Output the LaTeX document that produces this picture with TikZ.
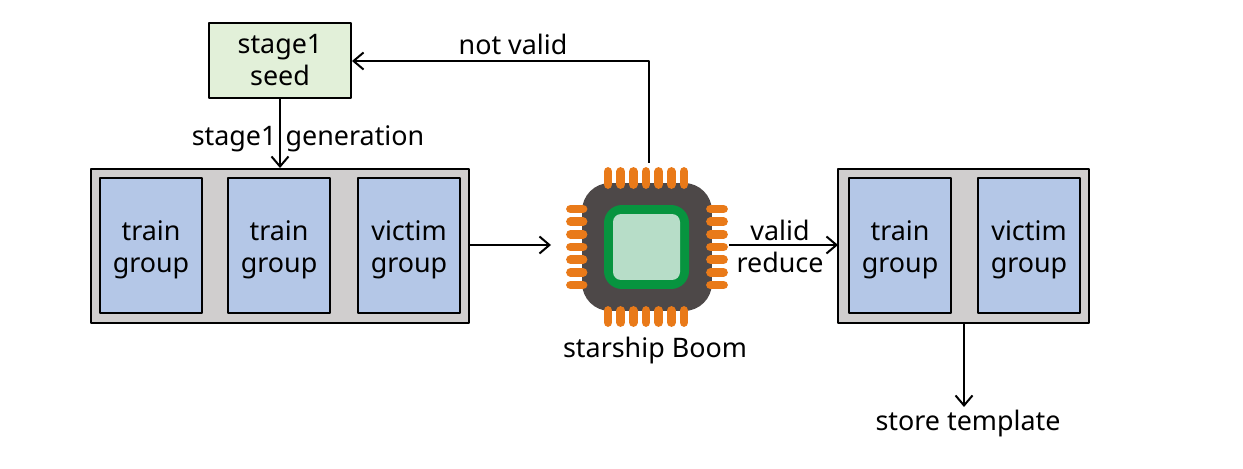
\documentclass[tikz,border=0pt]{standalone}
\usepackage{fontspec}
\setmainfont{Noto Sans}
\usetikzlibrary{arrows.meta}
\definecolor{seedgreen}{HTML}{E2F0D9}
\definecolor{groupblue}{HTML}{B4C7E7}
\definecolor{framegray}{HTML}{D0CECE}
\definecolor{chipdark}{HTML}{4D4848}
\definecolor{chipgreen}{HTML}{07943F}
\definecolor{chiplight}{HTML}{B7DDC8}
\definecolor{pinorange}{HTML}{E97A19}
\tikzset{
	box/.style = {draw, line width = 0.04cm, inner sep = 0pt, align = center, font = \fontsize{15.3pt}{18.2pt}\selectfont},
	frame/.style = {box, fill = framegray, minimum height = 3.08cm},
	group/.style = {box, fill = groupblue, minimum width = 2.04cm, minimum height = 2.7cm, text height = 1.2cm},
	label/.style = {inner sep = 0pt, align = center, font = \fontsize{15.3pt}{18.2pt}\selectfont},
	conn/.style = {draw, line width = 0.04cm, -{Straight Barb[length=0.2cm, width=0.34cm]}},
	pin/.style = {pinorange, line width = 0.175cm, line cap = round},
}
\begin{document}
\begin{tikzpicture}[x = 0.02cm, y = -0.02cm, line join = round]
	\useasboundingbox (0,0) rectangle (1243,469);
	% top box
	\node[box, fill = seedgreen, minimum width = 2.84cm, minimum height = 1.5cm] (seed) at (280,60.5) {stage1\\seed};
	% left group
	\node[frame, minimum width = 7.56cm] (left) at (280,246) {};
	\node[group] (train1) at (151,245.5) {train\\group};
	\node[group] (train2) at (279,245.5) {train\\group};
	\node[group] (victim1) at (409,245.5) {victim\\group};
	% right group
	\node[frame, minimum width = 5.02cm] (right) at (963.5,246) {};
	\node[group] (train3) at (900,245.5) {train\\group};
	\node[group] (victim2) at (1029,245.5) {victim\\group};
	% chip
	\node[fill = chipdark, rounded corners = 0.56cm, minimum width = 2.6cm, minimum height = 2.56cm, inner sep = 0pt] (chip) at (647,247) {};
	\node[fill = chipgreen, rounded corners = 0.36cm, minimum width = 1.7cm, minimum height = 1.68cm, inner sep = 0pt] (core) at (646.5,247) {};
	\node[fill = chiplight, rounded corners = 0.16cm, minimum width = 1.34cm, minimum height = 1.32cm, inner sep = 0pt] (die) at (646.5,247) {};
	\foreach \i in {0,...,6} {
		\draw[pin] (608+12.67*\i,171.5) -- (608+12.67*\i,184.5);
		\draw[pin] (608+12.67*\i,310.5) -- (608+12.67*\i,322.5);
		\draw[pin] (570.5,209+12.67*\i) -- (583,209+12.67*\i);
		\draw[pin] (710.5,209+12.67*\i) -- (723.5,209+12.67*\i);
	}
	\node[label] (boom) at (655,351) {starship Boom};
	% free ends
	\coordinate (chipin) at (551,245);
	\coordinate (chipout) at (729,245);
	\coordinate (chiptop) at (649,163);
	\coordinate (bend) at (649,61);
	\coordinate (seedin) at (352,61);
	\coordinate (rightin) at (838,245);
	\coordinate (rightout) at (964,323);
	\coordinate (storein) at (964,407);
	\node[label] (store) at (968,424) {store template};
	% connectors
	\draw[conn] (seed.south) -- (left.north);
	\draw[conn] (left.east |- chipin) -- (chipin);
	\draw[conn] (chipout) -- (rightin);
	\draw[conn] (chiptop) -- (bend) -- (seedin);
	\draw[conn] (rightout) -- (storein);
	% labels
	\node[label] (gen) at (308,139) {stage1\hspace{0.08em} generation};
	\node[label] (invalid) at (513,44) {not valid};
	\node[label] (valid) at (780,230) {valid};
	\node[label] (reduce) at (780,262) {reduce};
\end{tikzpicture}
\end{document}
